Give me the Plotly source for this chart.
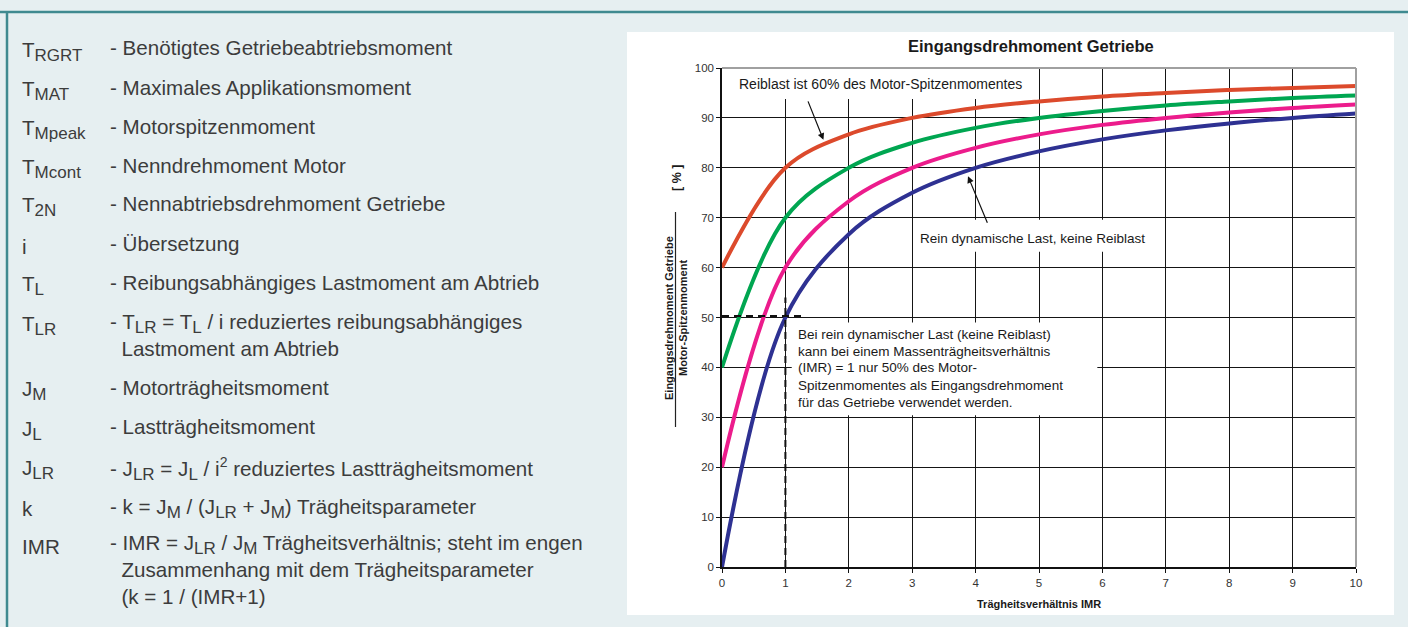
import plotly.graph_objects as go

# ---- data -------------------------------------------------------------
imr = [0, 1, 2, 3, 4, 5, 6, 7, 8, 9, 10]
series_names = ["Reiblast 0%", "Reiblast 20%", "Reiblast 40%", "Reiblast 60%"]
val_0 = [0, 50, 66.7, 75, 80, 83.3, 85.7, 87.5, 88.9, 90, 90.9]
val_20 = [20, 60, 73.3, 80, 84, 86.7, 88.6, 90, 91.1, 92, 92.7]
val_40 = [40, 70, 80, 85, 88, 90, 91.4, 92.5, 93.3, 94, 94.5]
val_60 = [60, 80, 86.7, 90, 92, 93.3, 94.3, 95, 95.6, 96, 96.4]
series_values = [val_0, val_20, val_40, val_60]
series_colors = ["#2e3192", "#ec1c8c", "#00a651", "#dc4a2c"]

x_ticks = list(range(0, 11))
y_ticks = list(range(0, 101, 10))

legend_items = [
    ("T<sub>RGRT</sub>", ["Benötigtes Getriebeabtriebsmoment"]),
    ("T<sub>MAT</sub>", ["Maximales Applikationsmoment"]),
    ("T<sub>Mpeak</sub>", ["Motorspitzenmoment"]),
    ("T<sub>Mcont</sub>", ["Nenndrehmoment Motor"]),
    ("T<sub>2N</sub>", ["Nennabtriebsdrehmoment Getriebe"]),
    ("i", ["Übersetzung"]),
    ("T<sub>L</sub>", ["Reibungsabhängiges Lastmoment am Abtrieb"]),
    ("T<sub>LR</sub>", ["T<sub>LR</sub> = T<sub>L</sub> / i reduziertes reibungsabhängiges",
                        "Lastmoment am Abtrieb"]),
    ("J<sub>M</sub>", ["Motorträgheitsmoment"]),
    ("J<sub>L</sub>", ["Lastträgheitsmoment"]),
    ("J<sub>LR</sub>", ["J<sub>LR</sub> = J<sub>L</sub> / i<sup>2</sup> reduziertes Lastträgheitsmoment"]),
    ("k", ["k = J<sub>M</sub> / (J<sub>LR</sub> + J<sub>M</sub>) Trägheitsparameter"]),
    ("IMR", ["IMR = J<sub>LR</sub> / J<sub>M</sub> Trägheitsverhältnis; steht im engen",
             "Zusammenhang mit dem Trägheitsparameter",
             "(k = 1 / (IMR+1)"]),
]

note_lines = [
    "Bei rein dynamischer Last (keine Reiblast)",
    "kann bei einem Massenträgheitsverhältnis",
    "(IMR) = 1 nur 50% des Motor-",
    "Spitzenmomentes als Eingangsdrehmoment",
    "für das Getriebe verwendet werden.",
]

# ---- page geometry ----------------------------------------------------
W, H = 1408, 627
PL, PR, PT, PB = 722, 1356, 68, 567   # plot area in pixels


def px(p):
    return (p - PL) / (PR - PL)


def py(p):
    return (PB - p) / (PB - PT)


def big_sub(s, size=17):
    """Enlarge subscript / superscript text in the glossary."""
    return (s.replace("<sub>", "<sub><span style='font-size:%dpx'>" % size)
             .replace("</sub>", "</span></sub>")
             .replace("<sup>", "<sup><span style='font-size:14px'>")
             .replace("</sup>", "</span></sup>"))


BG = "#e6eff1"
TEAL = "#3f8a90"
TXT = "#3c3c3c"
FONT = "Liberation Sans, Arial, sans-serif"
GRID = "#151515"
GLOSS_SIZE = 20.6
GLOSS_LINE = 1.3 * GLOSS_SIZE

fig = go.Figure()
for name, vals, col in zip(series_names, series_values, series_colors):
    fig.add_trace(go.Scatter(
        x=imr, y=vals, name=name, mode="lines",
        line=dict(color=col, width=4, shape="spline", smoothing=1.0),
        hoverinfo="skip", showlegend=False,
    ))

shapes = []
# white chart panel
shapes.append(dict(type="rect", xref="paper", yref="paper",
                   x0=px(627), x1=px(1394), y0=py(615), y1=py(32),
                   fillcolor="white", line=dict(width=0), layer="below"))
# teal page frame
shapes.append(dict(type="line", xref="paper", yref="paper",
                   x0=px(0), x1=px(W), y0=py(12), y1=py(12),
                   line=dict(color=TEAL, width=2.5)))
shapes.append(dict(type="line", xref="paper", yref="paper",
                   x0=px(7), x1=px(7), y0=py(12), y1=py(H + 5),
                   line=dict(color=TEAL, width=2.5)))
# grey frame on top and right of the plot area
shapes.append(dict(type="line", xref="paper", yref="paper", x0=0, x1=1, y0=1, y1=1,
                   line=dict(color="#a0a0a0", width=2), layer="above"))
shapes.append(dict(type="line", xref="paper", yref="paper", x0=1, x1=1, y0=0, y1=1,
                   line=dict(color="#a0a0a0", width=2), layer="above"))
# white backgrounds behind the chart notes (cover the grid)
for (x0, x1, y0, y1) in [(0.2, 4.85, 93.8, 99.8),
                         (3.04, 6.95, 63.2, 69.6),
                         (1.1, 5.92, 30.4, 49.0)]:
    shapes.append(dict(type="rect", xref="x", yref="y", x0=x0, x1=x1, y0=y0, y1=y1,
                       fillcolor="white", line=dict(width=0), layer="above"))
# dashed guide at IMR = 1
ref_x = imr[1]
ref_y = val_0[1]
shapes.append(dict(type="line", xref="x", yref="y", x0=0, x1=ref_x + 0.3,
                   y0=ref_y + 0.3, y1=ref_y + 0.3,
                   line=dict(color="#111", width=2, dash="7px,5px"), layer="above"))
shapes.append(dict(type="line", xref="x", yref="y", x0=ref_x, x1=ref_x,
                   y0=0, y1=ref_y + 4,
                   line=dict(color="#111", width=2, dash="7px,5px"), layer="above"))
# fraction bar of the y-axis title
shapes.append(dict(type="line", xref="paper", yref="paper",
                   x0=px(675.5), x1=px(675.5), y0=py(427), y1=py(212),
                   line=dict(color="#222", width=1.2)))

ann = []
# left glossary: symbol column plus one (possibly multi-line) description block
row_y = [48, 87, 126, 165, 203, 243, 282, 322, 387, 427, 466, 505, 543]
INDENT = "\u00a0\u00a0"
for (sym, lines), yy in zip(legend_items, row_y):
    ann.append(dict(xref="paper", yref="paper", x=px(20), y=py(yy + 3),
                    xanchor="left", yanchor="middle", showarrow=False, text=big_sub(sym),
                    font=dict(family=FONT, size=GLOSS_SIZE, color=TXT)))
    body = "- " + ("<br>" + INDENT).join(lines)
    shift = 3 if (len(lines) == 1 and "<sub>" in lines[0]) else 0
    y_mid = yy + (len(lines) - 1) * GLOSS_LINE / 2 + shift
    ann.append(dict(xref="paper", yref="paper", x=px(108), y=py(y_mid),
                    xanchor="left", yanchor="middle", align="left", showarrow=False,
                    text=big_sub(body),
                    font=dict(family=FONT, size=GLOSS_SIZE, color=TXT)))

# chart title and axis titles
ann.append(dict(xref="paper", yref="paper", x=px(1031), y=py(46), xanchor="center",
                yanchor="middle", showarrow=False, text="<b>Eingangsdrehmoment Getriebe</b>",
                font=dict(family=FONT, size=16.5, color="#1a1a1a")))
ann.append(dict(xref="paper", yref="paper", x=px(1039), y=py(604), xanchor="center",
                yanchor="middle", showarrow=False, text="<b>Trägheitsverhältnis IMR</b>",
                font=dict(family=FONT, size=11, color="#1a1a1a")))
ann.append(dict(xref="paper", yref="paper", x=px(669), y=py(318), xanchor="center",
                yanchor="middle", showarrow=False, textangle=-90,
                text="<b>Eingangsdrehmoment Getriebe</b>",
                font=dict(family=FONT, size=11, color="#1a1a1a")))
ann.append(dict(xref="paper", yref="paper", x=px(683), y=py(318), xanchor="center",
                yanchor="middle", showarrow=False, textangle=-90,
                text="<b>Motor-Spitzenmoment</b>",
                font=dict(family=FONT, size=11, color="#1a1a1a")))
ann.append(dict(xref="paper", yref="paper", x=px(677), y=py(178), xanchor="center",
                yanchor="middle", showarrow=False, textangle=-90, text="<b>[ % ]</b>",
                font=dict(family=FONT, size=12.5, color="#1a1a1a")))

# notes inside the chart
NOTE_FONT = dict(family=FONT, size=13.5, color="#1a1a1a")
ann.append(dict(xref="paper", yref="paper", x=px(737), y=py(84), xanchor="left",
                yanchor="middle", showarrow=False,
                text="Reiblast ist 60% des Motor-Spitzenmomentes",
                font=dict(family=FONT, size=14, color="#1a1a1a")))
ann.append(dict(xref="x", yref="y", x=1.6, y=85.6, ax=-16, ay=-40,
                axref="pixel", ayref="pixel", text="", showarrow=True,
                arrowhead=2, arrowsize=1.1, arrowwidth=1.2, arrowcolor="#111"))
ann.append(dict(xref="paper", yref="paper", x=px(918), y=py(238), xanchor="left",
                yanchor="middle", showarrow=False,
                text="Rein dynamische Last, keine Reiblast", font=NOTE_FONT))
ann.append(dict(xref="x", yref="y", x=3.88, y=78.3, ax=20, ay=48,
                axref="pixel", ayref="pixel", text="", showarrow=True,
                arrowhead=2, arrowsize=1.1, arrowwidth=1.2, arrowcolor="#111"))
for k, line in enumerate(note_lines):
    ann.append(dict(xref="paper", yref="paper", x=px(796), y=py(334 + 17 * k),
                    xanchor="left", yanchor="middle", showarrow=False, text=line,
                    font=NOTE_FONT))

fig.update_layout(
    width=W, height=H,
    margin=dict(l=PL, r=W - PR, t=PT, b=H - PB, pad=0),
    paper_bgcolor=BG, plot_bgcolor="white",
    shapes=shapes, annotations=ann, showlegend=False,
    font=dict(family=FONT),
)
fig.update_xaxes(range=[0, 10], tickvals=x_ticks, showgrid=True, gridcolor=GRID,
                 gridwidth=1.3, zeroline=False, showline=True, linecolor="#111",
                 linewidth=1.5, ticks="outside", ticklen=4, tickcolor="#111",
                 tickfont=dict(family=FONT, size=11.5, color="#333"), fixedrange=True)
fig.update_yaxes(range=[0, 100], tickvals=y_ticks, showgrid=True, gridcolor=GRID,
                 gridwidth=1.3, zeroline=False, showline=True, linecolor="#111",
                 linewidth=1.5, ticks="outside", ticklen=4, tickcolor="#111",
                 tickfont=dict(family=FONT, size=11.5, color="#333"), fixedrange=True)

fig.write_html("out.html")
